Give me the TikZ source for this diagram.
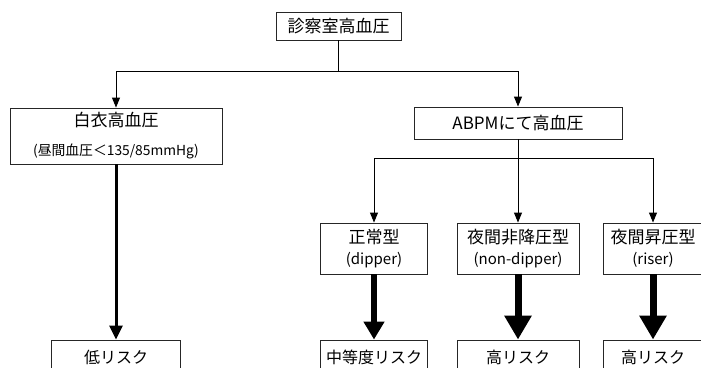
\documentclass[tikz,border=0pt]{standalone}
\usepackage{fontspec}
\newfontfamily\jp{Noto Sans CJK JP}
\usetikzlibrary{arrows.meta}
\newcommand{\subf}{\jp\fontsize{15}{17}\selectfont}
\newcommand{\subs}{\jp\fontsize{13.8}{16}\selectfont}
\begin{document}
\begin{tikzpicture}[x=1pt,y=-1pt,
  box/.style={draw=black!85, line width=0.9pt, inner sep=0pt, align=center,
    font=\jp\fontsize{17}{20}\selectfont},
  riskbox/.style={box, font=\jp\fontsize{16}{19}\selectfont, minimum height=34pt},
  conn/.style={line width=0.9pt, black},
  thinarrow/.style={conn, -{Triangle[width=8pt,length=10pt]}},
  arrowA/.style={line width=3pt, -{Triangle[width=13pt,length=14pt]}},
  arrowB/.style={line width=5.5pt, -{Triangle[width=20pt,length=18pt]}},
  arrowC/.style={line width=7pt, -{Triangle[width=26pt,length=24pt]}}]
\useasboundingbox (0,0) rectangle (701,367);
\clip (0,0) rectangle (701,367);

% boxes
\node[box, minimum width=125pt, minimum height=28pt] (top) at (338.5,26) {診察室高血圧};
\node[box, minimum width=212pt, minimum height=56pt] (wc) at (116,136)
  {白衣高血圧\\[9pt]{\subs (昼間血圧＜135/85mmHg)}};
\node[box, minimum width=208pt, minimum height=32pt] (abpm) at (518,123) {ABPMにて高血圧};
\node[box, minimum width=107pt, minimum height=51pt] (dip) at (374,248.5)
  {正常型\\[1pt]{\subf (dipper)}};
\node[box, minimum width=122pt, minimum height=51pt] (nd) at (518,248.5)
  {夜間非降圧型\\[1pt]{\subf (non-dipper)}};
\node[box, minimum width=100pt, minimum height=51pt] (ris) at (653,248.5)
  {夜間昇圧型\\[1pt]{\subf (riser)}};
\node[riskbox, minimum width=129pt] (low) at (116,357) {低リスク};
\node[riskbox, minimum width=107pt] (mid) at (374,357) {中等度リスク};
\node[riskbox, minimum width=122pt] (high1) at (518,357) {高リスク};
\node[riskbox, minimum width=100pt] (high2) at (653,357) {高リスク};

% connectors
\coordinate (j1) at (338.5,71);
\draw[conn] (top.south) -- (j1);
\draw[thinarrow] (j1) -| (wc.north);
\draw[thinarrow] (j1) -| (abpm.north);
\coordinate (j2) at (518,158);
\draw[conn] (abpm.south) -- (j2);
\draw[thinarrow] (j2) -| (dip.north);
\draw[thinarrow] (j2) -- (nd.north);
\draw[thinarrow] (j2) -| (ris.north);

\draw[arrowA] (wc.south) -- (low.north);
\draw[arrowB] (dip.south) -- (mid.north);
\draw[arrowC] (nd.south) -- (high1.north);
\draw[arrowC] (ris.south) -- (high2.north);
\end{tikzpicture}
\end{document}
